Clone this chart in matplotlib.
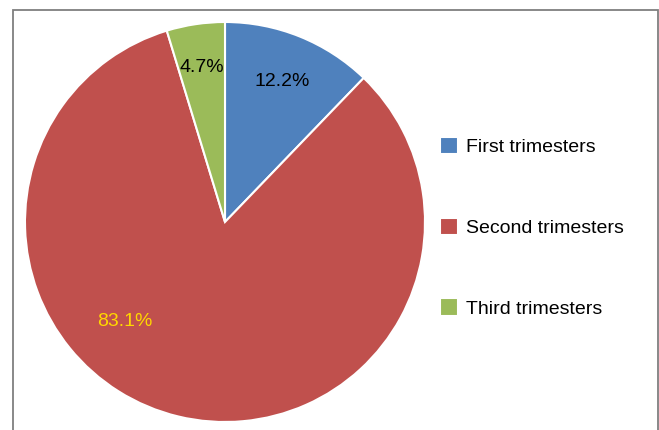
import matplotlib
matplotlib.use("Agg")
import matplotlib.pyplot as plt
from matplotlib.patches import Rectangle
import numpy as np

categories = ["First trimesters", "Second trimesters", "Third trimesters"]
values = [12.2, 83.1, 4.7]
colors = ["#4F81BD", "#C0504D", "#9BBB59"]
label_colors = ["black", "#FFD700", "black"]

plt.rcParams['font.family'] = ['Liberation Sans', 'DejaVu Sans']

W, H = 659, 430
fig = plt.figure(figsize=(W/100, H/100), dpi=100)
fig.patch.set_facecolor("white")

# frame
fig.patches.append(Rectangle((13/W, -0.1), (658-13)/W, (H-10)/H + 0.1, transform=fig.transFigure,
                             fill=False, edgecolor="#7f7f7f", linewidth=1.3))

cx, cy, r = 225, 222, 200
ax = fig.add_axes([(cx-r)/W, (H-cy-r)/H, 2*r/W, 2*r/H])
wedges, _ = ax.pie(values, colors=colors, startangle=90, counterclock=False,
                   wedgeprops=dict(edgecolor="white", linewidth=1.5), radius=1)
ax.set_xlim(-1, 1)
ax.set_ylim(-1, 1)
ax.set_aspect("equal")
ax.axis("off")

# labels
label_r = {0: 0.76, 2: 0.78}
for i, (v, w) in enumerate(zip(values, wedges)):
    mid = np.deg2rad((w.theta1 + w.theta2) / 2)
    if i == 1:
        ang, rr = np.deg2rad(225), 0.707
    else:
        ang, rr = mid, label_r[i]
    ax.text(rr*np.cos(ang), rr*np.sin(ang), f"{v}%", ha="center", va="center",
            fontsize=14, color=label_colors[i])

leg = fig.legend(wedges, categories, loc="upper left",
                 bbox_to_anchor=(440/W, (H-137)/H), frameon=False, fontsize=14,
                 handlelength=0.95, handleheight=1.0, handletextpad=0.38,
                 labelspacing=3.15, borderpad=0, borderaxespad=0)

fig.savefig("out.png", dpi=100, facecolor="white")
